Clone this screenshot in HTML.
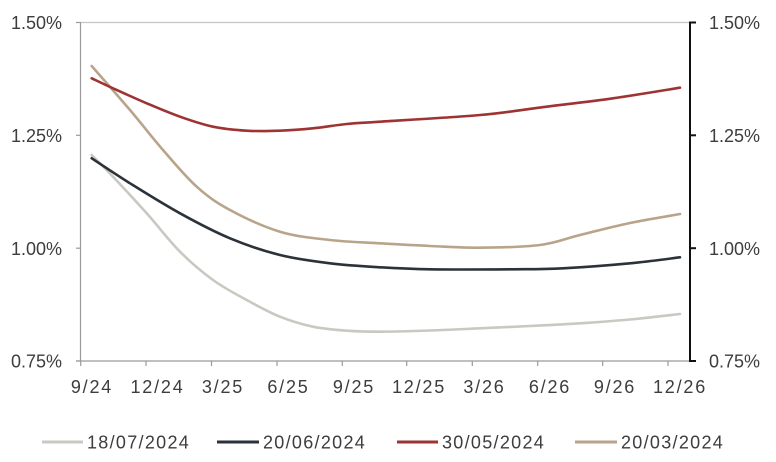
<!DOCTYPE html>
<html>
<head>
<meta charset="utf-8">
<style>
html,body{margin:0;padding:0;background:#fff;}
svg{display:block;}
text{font-family:"Liberation Sans",sans-serif;fill:#3d3d3d;}
</style>
</head>
<body>
<svg id="c" width="776" height="462" viewBox="0 0 776 462" xmlns="http://www.w3.org/2000/svg">
  <line x1="80" y1="22.5" x2="690" y2="22.5" stroke="#c4c4c4" stroke-width="1.2"/>
  <line x1="80.5" y1="22" x2="80.5" y2="361.5" stroke="#9a9a9a" stroke-width="1.2"/>
  <g stroke="#9a9a9a" stroke-width="1.2">
    <line x1="76" y1="22.5" x2="80.5" y2="22.5"/>
    <line x1="76" y1="135.3" x2="80.5" y2="135.3"/>
    <line x1="76" y1="248.2" x2="80.5" y2="248.2"/>
    <line x1="76" y1="361" x2="80.5" y2="361"/>
  </g>
  <line x1="76" y1="361" x2="690" y2="361" stroke="#9a9a9a" stroke-width="1.2"/>
  <g stroke="#9a9a9a" stroke-width="1.2">
    <line x1="80.7" y1="361" x2="80.7" y2="366"/>
    <line x1="146" y1="361" x2="146" y2="366"/>
    <line x1="211.5" y1="361" x2="211.5" y2="366"/>
    <line x1="277" y1="361" x2="277" y2="366"/>
    <line x1="342.3" y1="361" x2="342.3" y2="366"/>
    <line x1="406.7" y1="361" x2="406.7" y2="366"/>
    <line x1="472.3" y1="361" x2="472.3" y2="366"/>
    <line x1="537.7" y1="361" x2="537.7" y2="366"/>
    <line x1="602.7" y1="361" x2="602.7" y2="366"/>
    <line x1="668" y1="361" x2="668" y2="366"/>
  </g>
  <line x1="690" y1="21.5" x2="690" y2="362" stroke="#111" stroke-width="2"/>
  <g stroke="#111" stroke-width="2">
    <line x1="690" y1="22.5" x2="696" y2="22.5"/>
    <line x1="690" y1="135.3" x2="696" y2="135.3"/>
    <line x1="690" y1="248.2" x2="696" y2="248.2"/>
    <line x1="690" y1="361" x2="696" y2="361"/>
  </g>

  <g font-size="18" text-anchor="end">
    <text x="62" y="29.2">1.50%</text>
    <text x="62" y="142">1.25%</text>
    <text x="62" y="254.9">1.00%</text>
    <text x="62" y="367.7">0.75%</text>
  </g>
  <g font-size="18" text-anchor="start">
    <text x="709" y="29.2">1.50%</text>
    <text x="709" y="142">1.25%</text>
    <text x="709" y="254.9">1.00%</text>
    <text x="709" y="367.7">0.75%</text>
  </g>
  <g font-size="18" text-anchor="middle" letter-spacing="1.8">
    <text x="92" y="393">9/24</text>
    <text x="157.5" y="393">12/24</text>
    <text x="223" y="393">3/25</text>
    <text x="288.5" y="393">6/25</text>
    <text x="354" y="393">9/25</text>
    <text x="419" y="393">12/25</text>
    <text x="484.5" y="393">3/26</text>
    <text x="550" y="393">6/26</text>
    <text x="615" y="393">9/26</text>
    <text x="680" y="393">12/26</text>
  </g>

  <g id="series" fill="none" stroke-width="2.6" stroke-linejoin="round" stroke-linecap="round">
    <polyline stroke="#c9c8c1" points="91.7,155 113,176.7 146.7,213.3 180,251.7 213,280 246.7,300 280,316.7 313,326.7 346.7,330.7 380,331.7 430,330.5 480,328.3 530,326 580,323.3 630,319.5 680,314"/>
    <polyline stroke="#b9a48b" points="91.7,66 130,110 163,150 196.7,186.7 230,210 280,231.7 330,240 380,243.3 430,246 480,247.7 540,245 580,235 630,223 680,214"/>
    <polyline stroke="#2b3239" points="91.7,158.3 130,183.3 180,213.3 230,238.3 280,255 330,263.3 380,267.3 430,269.3 513,269.3 563,268.3 630,263.3 680,257.3"/>
    <polyline stroke="#9e3333" points="91.7,78.3 113,88.3 146.7,103.3 180,116.7 213,126.7 246.7,130.7 280,130.7 313,128.3 346.7,124 380,121.7 480,115 546.7,106.7 613,98.3 680,87.7"/>
  </g>

  <g stroke-width="3" stroke-linecap="butt">
    <line x1="42" y1="442" x2="83" y2="442" stroke="#c9c8c1"/>
    <line x1="217" y1="442" x2="259" y2="442" stroke="#2b3239"/>
    <line x1="397" y1="442" x2="438" y2="442" stroke="#9e3333"/>
    <line x1="575" y1="442" x2="617" y2="442" stroke="#b9a48b"/>
  </g>
  <g font-size="18" letter-spacing="1.3">
    <text x="87" y="448.5">18/07/2024</text>
    <text x="263" y="448.5">20/06/2024</text>
    <text x="442" y="448.5">30/05/2024</text>
    <text x="621" y="448.5">20/03/2024</text>
  </g>
</svg>
<script>
(function(){
  var NS="http://www.w3.org/2000/svg";
  var g=document.getElementById("series");
  var pls=[].slice.call(g.getElementsByTagName("polyline"));
  pls.forEach(function(pl){
    var pts=pl.getAttribute("points").trim().split(/\s+/).map(function(s){var a=s.split(",");return [parseFloat(a[0]),parseFloat(a[1])];});
    var d="M"+pts[0][0]+","+pts[0][1];
    for(var i=0;i<pts.length-1;i++){
      var p0=pts[i-1]||pts[i],p1=pts[i],p2=pts[i+1],p3=pts[i+2]||pts[i+1];
      var c1x=p1[0]+(p2[0]-p0[0])/6,c1y=p1[1]+(p2[1]-p0[1])/6;
      var c2x=p2[0]-(p3[0]-p1[0])/6,c2y=p2[1]-(p3[1]-p1[1])/6;
      d+=" C"+c1x.toFixed(2)+","+c1y.toFixed(2)+" "+c2x.toFixed(2)+","+c2y.toFixed(2)+" "+p2[0]+","+p2[1];
    }
    var p=document.createElementNS(NS,"path");
    p.setAttribute("d",d);
    p.setAttribute("stroke",pl.getAttribute("stroke"));
    g.replaceChild(p,pl);
  });
})();
</script>
</body>
</html>
